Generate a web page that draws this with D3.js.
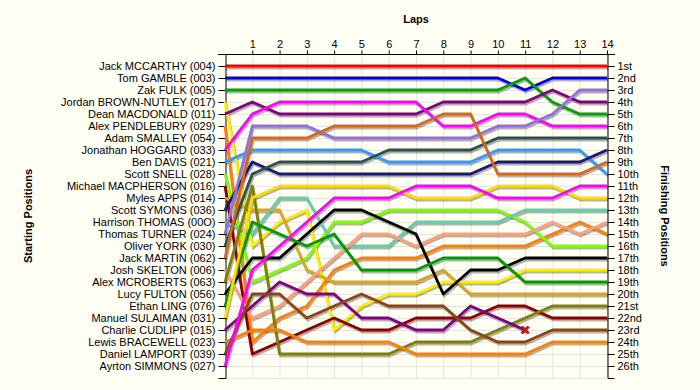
<!DOCTYPE html>
<html>
<head>
<meta charset="utf-8">
<script src="https://cdn.jsdelivr.net/npm/d3@7"></script>
<style>
  body { margin: 0; background: #fffff4; }
  text { font-family: Arial, "Liberation Sans", sans-serif; font-size: 11px; fill: #000; }
  .axis path, .axis line { stroke: #000; }
</style>
</head>
<body>
<script>
const lapNumbers = d3.range(1, 15);

const drivers = [
  'Jack MCCARTHY (004)', 'Tom GAMBLE (003)', 'Zak FULK (005)', 'Jordan BROWN-NUTLEY (017)',
  'Dean MACDONALD (011)', 'Alex PENDLEBURY (029)', 'Adam SMALLEY (054)', 'Jonathan HOGGARD (033)',
  'Ben DAVIS (021)', 'Scott SNELL (028)', 'Michael MACPHERSON (016)', 'Myles APPS (014)',
  'Scott SYMONS (036)', 'Harrison THOMAS (00O)', 'Thomas TURNER (024)', 'Oliver YORK (030)',
  'Jack MARTIN (062)', 'Josh SKELTON (006)', 'Alex MCROBERTS (063)', 'Lucy FULTON (056)',
  'Ethan LING (076)', 'Manuel SULAIMAN (031)', 'Charlie CUDLIPP (015)', 'Lewis BRACEWELL (023)',
  'Daniel LAMPORT (039)', 'Ayrton SIMMONS (027)'
];

const finishLabels = [
  '1st', '2nd', '3rd', '4th', '5th', '6th', '7th', '8th', '9th', '10th', '11th', '12th', '13th',
  '14th', '15th', '16th', '17th', '18th', '19th', '20th', '21st', '22nd', '23rd', '24th', '25th', '26th'
];

// position of each driver at laps 0..14 (lap 0 = grid), in starting order
const lapPositions = [
  [1, 1, 1, 1, 1, 1, 1, 1, 1, 1, 1, 1, 1, 1, 1],
  [2, 2, 2, 2, 2, 2, 2, 2, 2, 2, 2, 3, 2, 2, 2],
  [3, 3, 3, 3, 3, 3, 3, 3, 3, 3, 3, 2, 4, 5, 5],
  [4, 16, 14, 13, 23, 21, 20, 20, 19, 19, 19, 18, 18, 18, 18],
  [5, 4, 5, 5, 5, 5, 5, 5, 4, 4, 4, 4, 3, 4, 4],
  [6, 24, 22, 21, 18, 17, 17, 17, 16, 16, 16, 16, 15, 14, 15],
  [],
  [8, 5, 4, 4, 4, 4, 4, 4, 6, 6, 5, 5, 6, 6, 6],
  [9, 8, 8, 8, 8, 8, 9, 9, 9, 9, 8, 8, 8, 8, 10],
  [10, 19, 18, 17, 14, 14, 13, 13, 13, 13, 13, 14, 16, 16, 16],
  [11, 25, 24, 23, 22, 23, 23, 22, 22, 22, 21, 21, 22, 22, 22],
  [12, 13, 13, 18, 19, 19, 19, 19, 18, 20, 20, 20, 20, 20, 20],
  [13, 9, 10, 10, 10, 10, 10, 10, 10, 10, 9, 9, 9, 9, 8],
  [14, 15, 12, 12, 16, 16, 16, 14, 14, 14, 14, 13, 13, 13, 13],
  [15, 6, 6, 6, 7, 7, 7, 7, 7, 7, 6, 6, 5, 3, 3],
  [16, 10, 9, 9, 9, 9, 8, 8, 8, 8, 7, 7, 7, 7, 7],
  [17, 7, 7, 7, 6, 6, 6, 6, 5, 5, 10, 10, 10, 10, 9],
  [18, 22, 21, 19, 17, 15, 15, 16, 15, 15, 15, 15, 14, 15, 14],
  [19, 11, 25, 25, 25, 25, 25, 24, 24, 24, 23, 22, 21, 21, 21],
  [20, 17, 17, 15, 13, 13, 14, 15, 20, 18, 18, 17, 17, 17, 17],
  [21, 14, 15, 16, 15, 18, 18, 18, 17, 17, 17, 19, 19, 19, 19],
  [22, 12, 11, 11, 11, 11, 11, 12, 12, 12, 11, 11, 11, 12, 12],
  [23, 21, 19, 20, 20, 22, 22, 23, 23, 21, 22, 23],
  [24, 23, 23, 24, 24, 24, 24, 25, 25, 25, 25, 25, 24, 24, 24],
  [25, 20, 20, 22, 21, 20, 21, 21, 21, 23, 24, 24, 23, 23, 23],
  [26, 18, 16, 14, 12, 12, 12, 11, 11, 11, 12, 12, 12, 11, 11]
];

// drivers whose line ends with a retirement cross
const retired = ['Charlie CUDLIPP (015)'];

const colors = [
  '#ff0000', '#0000dd', '#00a000', '#ffee00', '#800080', '#ff8000', '#999999', '#ff00ff',
  '#3399ff', '#80ff00', '#8b0000', '#daa520', '#191970', '#66cdaa', '#9370db', '#2f4f4f',
  '#d2691e', '#ffa07a', '#808000', '#000000', '#009900', '#ffdd00', '#800080', '#ff8000',
  '#8b4513', '#ff00ff'
];

const width = 700, height = 390;
const svg = d3.select('body').append('svg')
  .attr('width', width)
  .attr('height', height);

const x = d3.scaleLinear().domain([0, 14]).range([225, 607]);
const y = d3.scaleLinear().domain([0, 27]).range([54, 378]);

// grid
const grid = svg.append('g');
grid.selectAll('line.v')
  .data(d3.range(1, 15))
  .enter().append('line')
  .attr('x1', d => x(d) + 0.5).attr('x2', d => x(d) + 0.5)
  .attr('y1', y(0)).attr('y2', y(27))
  .attr('stroke', '#e4e4e4');
grid.selectAll('line.h')
  .data(d3.range(1, 28))
  .enter().append('line')
  .attr('y1', d => y(d) + 0.5).attr('y2', d => y(d) + 0.5)
  .attr('x1', x(0)).attr('x2', x(14))
  .attr('stroke', '#e4e4e4');

// axes
svg.append('g').attr('class', 'axis')
  .attr('transform', `translate(0,${y(0) + 0.5})`)
  .call(d3.axisTop(x).tickValues(lapNumbers).tickSize(4).tickSizeOuter(0).tickPadding(3))
  .call(g => g.select('.domain').attr('d', `M${x(0) - 7},0H${x(14) + 8}`));

svg.append('g').attr('class', 'axis')
  .attr('transform', `translate(${x(0) + 0.5},0)`)
  .call(d3.axisLeft(y).tickValues(d3.range(1, 27)).tickFormat(d => drivers[d - 1])
    .tickSize(7).tickSizeOuter(7).tickPadding(3));

svg.append('g').attr('class', 'axis')
  .attr('transform', `translate(${x(14) + 0.5},0)`)
  .call(d3.axisRight(y).tickValues(d3.range(1, 27)).tickFormat(d => finishLabels[d - 1])
    .tickSize(7).tickSizeOuter(7).tickPadding(3));

svg.selectAll('.axis text').style('font-size', '11px').attr('fill', '#000');

// titles
svg.append('text')
  .attr('x', x(7)).attr('y', 23)
  .attr('text-anchor', 'middle')
  .style('font-weight', 'bold')
  .text('Laps');

svg.append('text')
  .attr('transform', `translate(32,${y(13.5)}) rotate(-90)`)
  .attr('text-anchor', 'middle')
  .style('font-weight', 'bold')
  .text('Starting Positions');

svg.append('text')
  .attr('transform', `translate(661,${y(13.5)}) rotate(90)`)
  .attr('text-anchor', 'middle')
  .style('font-weight', 'bold')
  .text('Finishing Positions');

// lap lines
const line = d3.line()
  .x((d, i) => x(i))
  .y(d => y(d));

const series = drivers.map((name, i) => ({ name, color: colors[i], values: lapPositions[i] }))
  .filter(d => d.values.length > 0);

const plot = svg.append('g');

plot.selectAll('path.shadow')
  .data(series)
  .enter().append('path')
  .attr('class', 'shadow')
  .attr('d', d => line(d.values))
  .attr('transform', 'translate(1,2)')
  .attr('fill', 'none')
  .attr('stroke', '#000')
  .attr('stroke-opacity', 0.3)
  .attr('stroke-width', 2.8)
  .attr('stroke-linejoin', 'round');

plot.selectAll('path.lap')
  .data(series)
  .enter().append('path')
  .attr('class', 'lap')
  .attr('d', d => line(d.values))
  .attr('fill', 'none')
  .attr('stroke', d => d.color)
  .attr('stroke-width', 2.8)
  .attr('stroke-linejoin', 'round');

// retirement marker
const crossPath = 'M-4,-2.5L-2.5,-4L0,-1.5L2.5,-4L4,-2.5L1.5,0L4,2.5L2.5,4L0,1.5L-2.5,4L-4,2.5L-1.5,0Z';
series.filter(d => retired.includes(d.name)).forEach(d => {
  const last = d.values.length - 1;
  plot.append('path')
    .attr('d', crossPath)
    .attr('transform', `translate(${x(last)},${y(d.values[last])})`)
    .attr('fill', '#ee1111')
    .attr('stroke', '#660000')
    .attr('stroke-width', 0.8);
});
</script>
</body>
</html>
